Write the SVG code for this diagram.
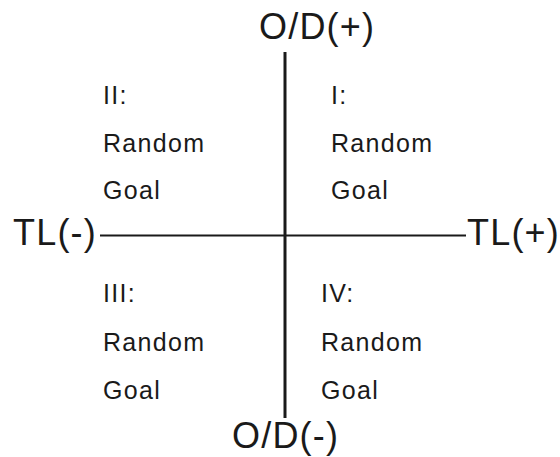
<svg xmlns="http://www.w3.org/2000/svg" width="560" height="457" viewBox="0 0 560 457">
<style>
.axis{font-family:"Liberation Sans",Arial,sans-serif;font-size:36px;fill:#1a1a1a;letter-spacing:1.2px}
.q{font-family:"Liberation Sans",Arial,sans-serif;font-size:25px;fill:#1a1a1a;letter-spacing:1.3px}
.ln{stroke:#1a1a1a;fill:none}
</style>
<rect width="560" height="457" fill="#fff"/>
<g id="connectors">
<line class="ln" x1="285" y1="52" x2="285" y2="418" stroke-width="3"/>
<line class="ln" x1="100" y1="235.5" x2="466" y2="235.5" stroke-width="2"/>
</g>
<g id="od-plus"><text class="axis" x="259" y="39">O/D(+)</text></g>
<g id="od-minus"><text class="axis" x="232" y="448">O/D(-)</text></g>
<g id="tl-minus"><text class="axis" x="13" y="244.5">TL(-)</text></g>
<g id="tl-plus"><text class="axis" x="467" y="244.5">TL(+)</text></g>
<g id="q2">
<text class="q" x="103" y="104">II:</text>
<text class="q" x="103" y="152">Random</text>
<text class="q" x="103" y="199">Goal</text>
</g>
<g id="q1">
<text class="q" x="331" y="104">I:</text>
<text class="q" x="331" y="152">Random</text>
<text class="q" x="331" y="199">Goal</text>
</g>
<g id="q3">
<text class="q" x="103" y="302">III:</text>
<text class="q" x="103" y="351">Random</text>
<text class="q" x="103" y="399">Goal</text>
</g>
<g id="q4">
<text class="q" x="321" y="302">IV:</text>
<text class="q" x="321" y="351">Random</text>
<text class="q" x="321" y="399">Goal</text>
</g>
</svg>
